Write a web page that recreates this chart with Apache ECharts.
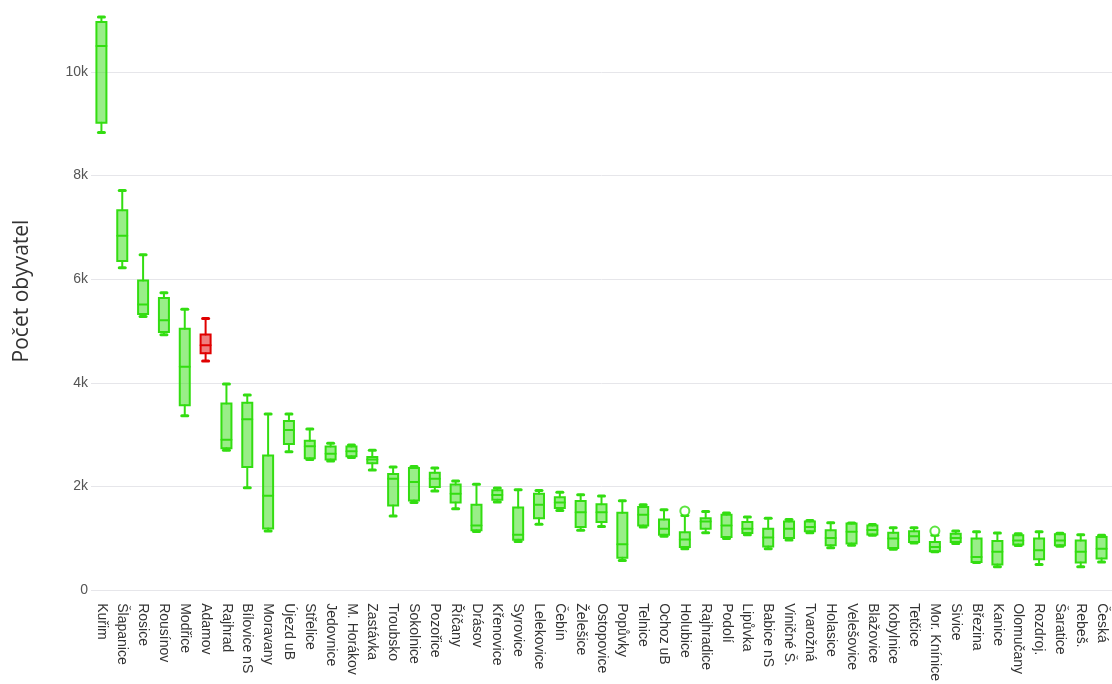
<!DOCTYPE html>
<html>
<head>
<meta charset="utf-8">
<title>Počet obyvatel</title>
<script src="https://cdn.jsdelivr.net/npm/echarts@6/dist/echarts.min.js"></script>
<style>
  html, body { margin: 0; padding: 0; background: #ffffff; }
  #chart { width: 1112px; height: 684px; }
</style>
</head>
<body>
<div id="chart"></div>
<script>
// Municipalities, ordered by population
var categories = ['Kuřim','Šlapanice','Rosice','Rousínov','Modřice','Adamov','Rajhrad','Bílovice nS','Moravany','Újezd uB',
  'Střelice','Jedovnice','M. Horákov','Zastávka','Troubsko','Sokolnice','Pozořice','Říčany','Drásov','Křenovice',
  'Syrovice','Lelekovice','Čebín','Želešice','Ostopovice','Popůvky','Telnice','Ochoz uB','Holubice','Rajhradice',
  'Podolí','Lipůvka','Babice nS','Viničné Š.','Tvarožná','Holasice','Velešovice','Blažovice','Kobylnice','Tetčice',
  'Mor. Knínice','Sivice','Březina','Kanice','Olomučany','Rozdroj.','Šaratice','Rebeš.','Česká'];

// Box statistics per municipality
var lowWhisker = [8830,6220,5280,4930,3365,4420,2700,1975,1140,2670,
  2520,2490,2560,2320,1430,1690,1915,1570,1130,1700,
  940,1270,1535,1155,1230,575,1220,1040,800,1110,
  995,1070,800,970,1110,820,865,1060,790,910,
  740,900,535,450,860,495,850,450,545];
var q1 = [9020,6350,5330,4980,3570,4570,2740,2375,1190,2820,
  2545,2520,2585,2450,1635,1730,1990,1690,1155,1745,
  975,1390,1585,1220,1315,625,1250,1070,835,1185,
  1025,1105,845,1005,1135,865,900,1075,815,930,
  750,930,545,495,880,595,865,535,610];
var median = [10500,6840,5510,5210,4310,4725,2900,3300,1820,3090,
  2775,2630,2680,2520,2150,2085,2150,1860,1250,1835,
  1070,1650,1690,1505,1505,885,1455,1185,980,1325,
  1250,1185,1015,1185,1220,1005,1125,1160,995,1040,
  835,1005,640,740,960,770,960,740,800];
var q3 = [10960,7330,5975,5635,5045,4935,3600,3615,2600,3265,
  2885,2770,2770,2570,2240,2355,2265,2040,1650,1930,
  1595,1860,1795,1720,1660,1495,1605,1365,1120,1390,
  1455,1315,1185,1325,1325,1155,1285,1250,1110,1135,
  930,1090,995,950,1058,995,1077,960,1025];
var highWhisker = [11060,7710,6470,5740,5420,5240,3980,3765,3400,3400,
  3110,2835,2800,2700,2375,2385,2355,2105,2045,1970,
  1940,1925,1890,1840,1815,1725,1650,1550,1440,1520,
  1490,1410,1390,1365,1345,1300,1295,1265,1205,1205,
  1060,1140,1125,1105,1090,1125,1100,1070,1060];

// Outliers: [municipality, value]
var outliers = [['Holubice', 1530], ['Mor. Knínice', 1140]];

// Municipality drawn in the accent colour
var highlighted = ['Adamov'];

var yTicks = [0, 2000, 4000, 6000, 8000, 10000];

var GREEN = '#33dd11', GREEN_FILL = 'rgba(51,221,17,0.5)';
var RED = '#e00000', RED_FILL = 'rgba(224,0,0,0.5)';
var GRID_COLOR = '#e6e6ea';

var boxData = categories.map(function (name, i) {
  return [i, lowWhisker[i], q1[i], median[i], q3[i], highWhisker[i]];
});
var outlierData = outliers.map(function (o) {
  return [categories.indexOf(o[0]), o[1]];
});

function renderBox(params, api) {
  var i = api.value(0);
  var pLow = api.coord([i, api.value(1)]);
  var pQ1 = api.coord([i, api.value(2)]);
  var pMed = api.coord([i, api.value(3)]);
  var pQ3 = api.coord([i, api.value(4)]);
  var pHigh = api.coord([i, api.value(5)]);
  var cx = pLow[0];
  var half = 5, cap = 3;
  var hot = highlighted.indexOf(categories[i]) >= 0;
  var stroke = hot ? RED : GREEN;
  var fill = hot ? RED_FILL : GREEN_FILL;
  var line = function (x1, y1, x2, y2, w) {
    return { type: 'line', shape: { x1: x1, y1: y1, x2: x2, y2: y2 },
      style: { stroke: stroke, lineWidth: w, lineCap: 'round' } };
  };
  return {
    type: 'group',
    children: [
      line(cx, pQ3[1], cx, pHigh[1], 2),
      line(cx, pQ1[1], cx, pLow[1], 2),
      line(cx - cap, pHigh[1], cx + cap, pHigh[1], 3),
      line(cx - cap, pLow[1], cx + cap, pLow[1], 3),
      { type: 'rect',
        shape: { x: cx - half, y: pQ3[1], width: half * 2, height: pQ1[1] - pQ3[1] },
        style: { fill: fill, stroke: stroke, lineWidth: 2 } },
      line(cx - half, pMed[1], cx + half, pMed[1], 2)
    ]
  };
}

var chart = echarts.init(document.getElementById('chart'), null, { renderer: 'canvas' });

chart.setOption({
  animation: false,
  backgroundColor: '#ffffff',
  grid: { left: 91, right: -8, top: 20, bottom: 92, containLabel: false },
  xAxis: {
    type: 'category',
    data: categories,
    boundaryGap: true,
    axisLine: { show: false },
    axisTick: { show: false },
    splitLine: { show: false },
    axisLabel: {
      rotate: -90,
      interval: 0,
      margin: 13,
      fontFamily: 'Liberation Sans, Arial, sans-serif',
      fontSize: 14,
      color: '#333333'
    }
  },
  yAxis: {
    type: 'value',
    min: 0,
    max: 11000,
    interval: 2000,
    axisLine: { show: false },
    axisTick: { show: false },
    splitLine: {
      show: true,
      // the top edge of the plot (11k) carries no grid line
      lineStyle: { color: [GRID_COLOR, GRID_COLOR, GRID_COLOR, GRID_COLOR, GRID_COLOR, GRID_COLOR, 'rgba(0,0,0,0)'], width: 1 }
    },
    axisLabel: {
      margin: 3,
      fontFamily: 'Liberation Sans, Arial, sans-serif',
      fontSize: 14,
      color: '#555555',
      showMaxLabel: false,
      formatter: function (v) {
        if (yTicks.indexOf(v) < 0) return '';
        return v === 0 ? '0' : (v / 1000) + 'k';
      }
    }
  },
  graphic: [{
    type: 'text',
    x: 22,
    y: 291,
    rotation: Math.PI / 2,
    style: {
      text: 'Počet obyvatel',
      fill: '#333333',
      font: '21px "Open Sans", "Liberation Sans", Arial, sans-serif',
      textAlign: 'center',
      textVerticalAlign: 'middle'
    }
  }],
  series: [
    {
      name: 'Počet obyvatel',
      type: 'custom',
      renderItem: renderBox,
      encode: { x: 0, y: [1, 2, 3, 4, 5] },
      data: boxData,
      clip: false,
      z: 2
    },
    {
      name: 'Odlehlé hodnoty',
      type: 'scatter',
      symbol: 'circle',
      symbolSize: 9,
      itemStyle: { color: '#ffffff', borderColor: GREEN, borderWidth: 2 },
      data: outlierData,
      z: 3
    }
  ]
});
</script>
</body>
</html>
